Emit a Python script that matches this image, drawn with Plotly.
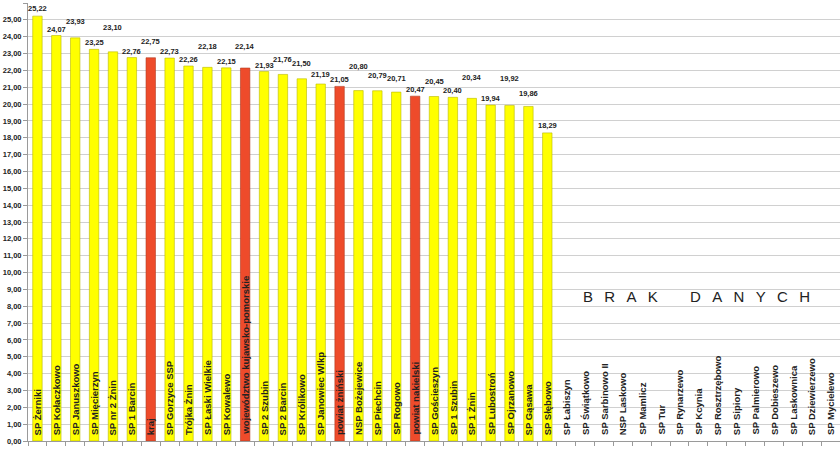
import plotly.graph_objects as go

categories = [
    "SP Żerniki", "SP Kołaczkowo", "SP Januszkowo", "SP Mięcierzyn", "SP nr 2 Żnin",
    "SP 1 Barcin", "kraj", "SP Gorzyce SSP", "Trójka Żnin", "SP Łaski Wielkie",
    "SP Kowalewo", "województwo kujawsko-pomorskie", "SP 2 Szubin", "SP 2 Barcin",
    "SP Królikowo", "SP Janowiec Wlkp", "powiat żniński", "NSP Bożejewice",
    "SP Piechcin", "SP Rogowo", "powiat nakielski", "SP Gościeszyn", "SP 1 Szubin",
    "SP 1 Żnin", "SP Lubostroń", "SP Ojrzanowo", "SP Gąsawa", "SP Słębowo",
    "SP Łabiszyn", "SP Świątkowo", "SP Sarbinowo II", "NSP Laskowo", "SP Mamlicz",
    "SP Tur", "SP Rynarzewo", "SP Kcynia", "SP Rosztrzębowo", "SP Sipiory",
    "SP Palmierowo", "SP Dobieszewo", "SP Laskownica", "SP Dziewierzewo", "SP Mycielewo",
]
values = [
    25.22, 24.07, 23.93, 23.25, 23.10, 22.76, 22.75, 22.73, 22.26, 22.18,
    22.15, 22.14, 21.93, 21.76, 21.50, 21.19, 21.05, 20.80, 20.79, 20.71,
    20.47, 20.45, 20.40, 20.34, 19.94, 19.92, 19.86, 18.29,
]
highlight = {"kraj", "województwo kujawsko-pomorskie", "powiat żniński", "powiat nakielski"}
y_ticks = list(range(0, 27))
no_data_text = "BRAK DANYCH"

# style: extra vertical offsets (px) of the value labels, as staggered in the original
label_lift = [1, 0, 10, 0, 18, 0, 10, 0, 0, 14, 0, 15, 0, 8, 9, 3, 0, 18, 9, 7,
              0, 9, 0, 14, 0, 20, 6, 1]

YELLOW = "#FFFF00"
RED = "#EE4B2B"
FONT = "Liberation Sans, Arial"

data_cats = categories[:len(values)]
colors = [RED if c in highlight else YELLOW for c in data_cats]
edge = ["#B03A20" if c in highlight else "#B8B800" for c in data_cats]

fig = go.Figure()
fig.add_trace(go.Bar(
    x=data_cats, y=values,
    marker=dict(color=colors, line=dict(color=edge, width=0.6)),
    width=0.5,
    hoverinfo="x+y",
))

annotations = []
for i, (c, v) in enumerate(zip(data_cats, values)):
    annotations.append(dict(
        x=c, y=v, xref="x", yref="y",
        text="<b>" + f"{v:.2f}".replace(".", ",") + "</b>",
        showarrow=False, yanchor="bottom", xanchor="center",
        yshift=0 + label_lift[i],
        font=dict(family=FONT, size=7.5, color="#222222"),
    ))
for c in categories:
    annotations.append(dict(
        x=c, y=0, xref="x", yref="y", text=f"<b>{c}</b>",
        showarrow=False, yanchor="bottom", xanchor="center", textangle=-90,
        yshift=4,
        font=dict(family=FONT, size=9.5, color="#222222"),
    ))
letter_gap = "\u00a0\u00a0\u2009"
word_gap = "\u00a0" * 7 + "\u2009"
spaced = word_gap.join(letter_gap.join(list(w)) for w in no_data_text.split(" "))
annotations.append(dict(
    x=0.8235, y=8.55, xref="paper", yref="y", text=spaced, showarrow=False,
    xanchor="center", yanchor="middle",
    font=dict(family=FONT, size=15, color="#222222"),
))

fig.update_layout(
    width=840, height=452,
    margin=dict(l=28, r=0, t=3, b=11),
    paper_bgcolor="white", plot_bgcolor="white",
    showlegend=False,
    bargap=0.5,
    annotations=annotations,
    xaxis=dict(
        type="category", categoryorder="array", categoryarray=categories,
        range=[-0.5, len(categories) - 0.5],
        showticklabels=False, showgrid=False,
        showline=True, linecolor="#9a9a9a", linewidth=1,
        ticks="outside", ticklen=4, tickcolor="#9a9a9a",
        tickson="boundaries",
    ),
    yaxis=dict(
        range=[0, 26], tickvals=y_ticks,
        ticktext=["<b>" + f"{t:.2f}".replace(".", ",") + "</b>" for t in y_ticks],
        tickfont=dict(family=FONT, size=7.5, color="#222222"),
        showgrid=True, gridcolor="#d0d0d0", gridwidth=1,
        showline=True, linecolor="#9a9a9a", linewidth=1,
        ticks="outside", ticklen=4, tickcolor="#9a9a9a",
        zeroline=False,
    ),
)

fig.write_html("out.html")
